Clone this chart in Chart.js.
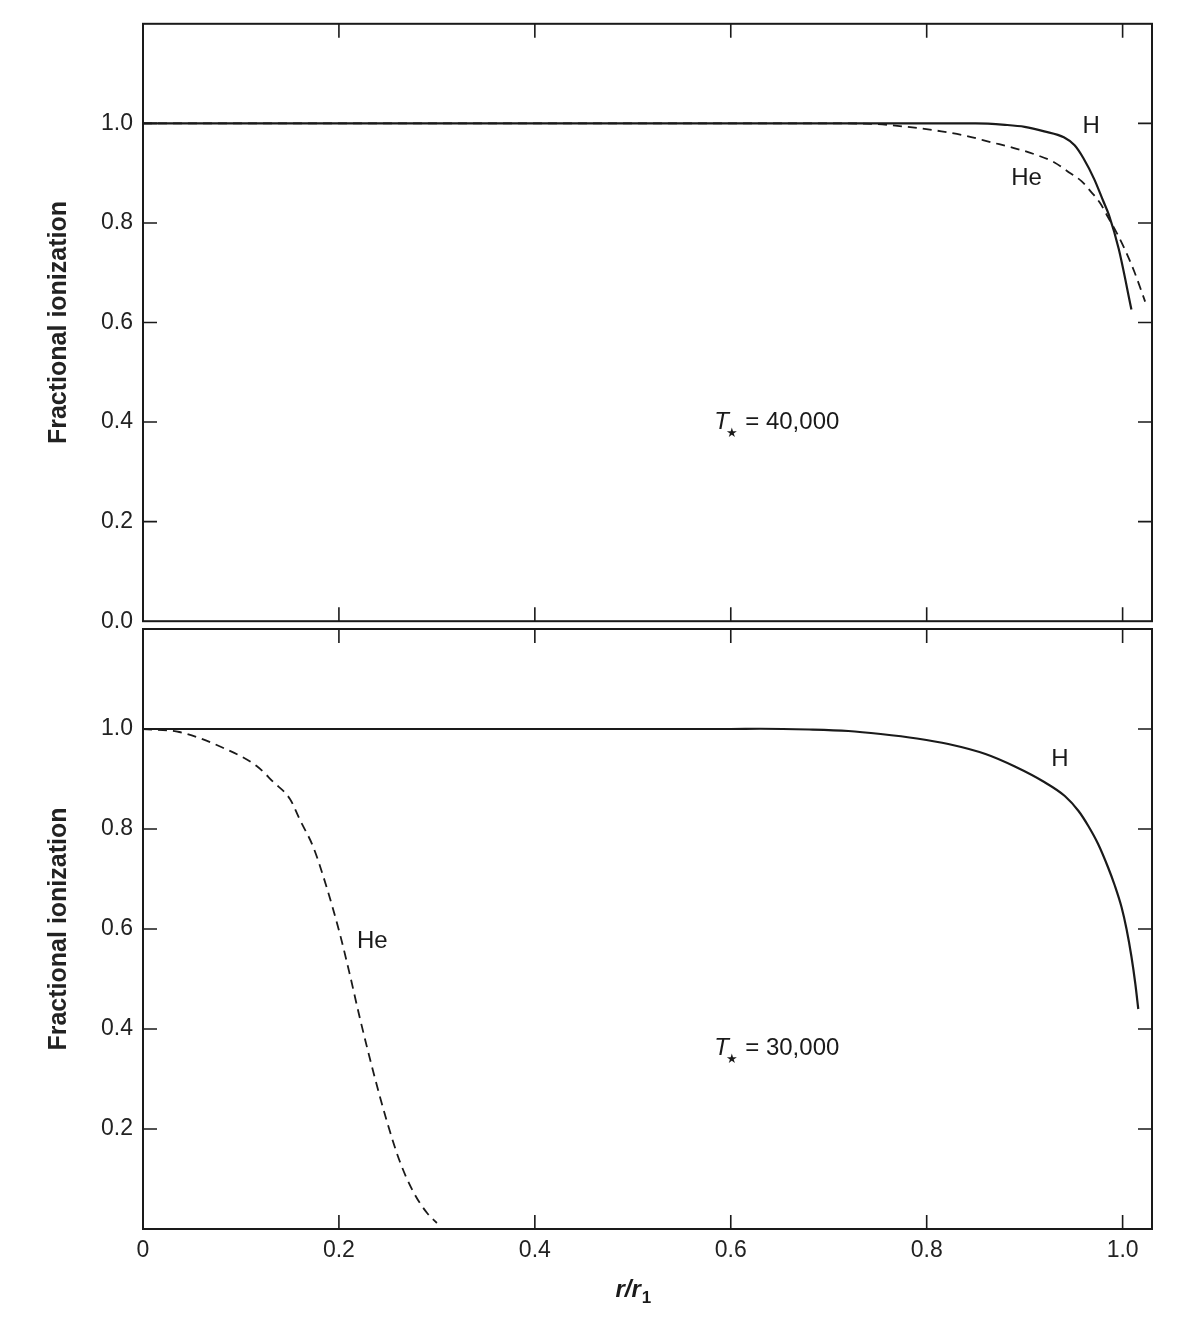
<!DOCTYPE html>
<html>
<head>
<meta charset="utf-8">
<script src="https://cdn.jsdelivr.net/npm/chart.js@4.4.1/dist/chart.umd.min.js"></script>
<style>
  html, body { margin: 0; padding: 0; background: #ffffff; }
  #wrap { position: relative; width: 1180px; height: 1318px; overflow: hidden; }
  #top { position: absolute; left: 0; top: 0; }
  #bot { position: absolute; left: 0; top: 600px; }
</style>
</head>
<body>
<div id="wrap">
  <canvas id="top" width="1180" height="645"></canvas>
  <canvas id="bot" width="1180" height="718"></canvas>
</div>
<script>
// ---------- data ----------
// Upper panel: T* = 40,000
const topH_r  = [0, 0.2, 0.4, 0.6, 0.8, 0.85, 0.88, 0.90, 0.92, 0.94, 0.951, 0.96, 0.971, 0.98, 0.986, 0.996, 1.009];
const topH_f  = [1, 1, 1, 1, 1, 1.0, 0.997, 0.993, 0.984, 0.972, 0.956, 0.93, 0.888, 0.845, 0.816, 0.748, 0.626];
const topHe_r = [0, 0.2, 0.4, 0.6, 0.7, 0.743, 0.78, 0.815, 0.84, 0.866, 0.89, 0.91, 0.93, 0.945, 0.958, 0.968, 0.977, 0.985, 0.994, 1.002, 1.012, 1.023];
const topHe_f = [1, 1, 1, 1, 1, 0.999, 0.993, 0.984, 0.975, 0.962, 0.95, 0.938, 0.922, 0.902, 0.884, 0.862, 0.84, 0.812, 0.78, 0.748, 0.702, 0.642];

// Lower panel: T* = 30,000
const botH_r  = [0, 0.2, 0.4, 0.6, 0.63, 0.68, 0.72, 0.753, 0.79, 0.822, 0.86, 0.89, 0.92, 0.941, 0.955, 0.965, 0.975, 0.985, 0.992, 0.999, 1.004, 1.009, 1.013, 1.016];
const botH_f  = [1, 1, 1, 1, 1.0005, 0.999, 0.996, 0.99, 0.981, 0.97, 0.95, 0.925, 0.894, 0.866, 0.836, 0.806, 0.77, 0.724, 0.687, 0.643, 0.6, 0.545, 0.49, 0.44];
const botHe_r = [0, 0.037, 0.081, 0.116, 0.133, 0.15, 0.16, 0.174, 0.188, 0.201, 0.211, 0.221, 0.235, 0.249, 0.262, 0.276, 0.29, 0.30];
const botHe_f = [1.0, 0.994, 0.963, 0.926, 0.894, 0.86, 0.819, 0.763, 0.68, 0.59, 0.51, 0.425, 0.315, 0.215, 0.136, 0.074, 0.032, 0.012];

// tick labels
const xTicks     = [0, 0.2, 0.4, 0.6, 0.8, 1.0];
const topYTicks  = [0, 0.2, 0.4, 0.6, 0.8, 1.0];
const botYTicks  = [0.2, 0.4, 0.6, 0.8, 1.0];

// text labels
const seriesNames = ['H', 'He'];
const topTemp = '40,000';
const botTemp = '30,000';
const yTitle = 'Fractional ionization';
const xTitleMain = 'r/r';
const xTitleSub = '1';

// ---------- helpers ----------
const FONT = '"Liberation Sans", Arial, Helvetica, sans-serif';
const INK = '#1a1a1a';
function pts(xs, ys) { return xs.map((x, i) => ({ x: x, y: ys[i] })); }

// Frame + inward tick marks on all four sides
const framePlugin = {
  id: 'frameTicks',
  afterDatasetsDraw(chart) {
    const { ctx, chartArea: a, scales } = chart;
    const L = 14;
    ctx.save();
    ctx.strokeStyle = INK;
    ctx.lineWidth = 1.6;
    ctx.beginPath();
    scales.x.ticks.forEach(t => {
      const px = scales.x.getPixelForValue(t.value);
      if (px <= a.left + 1 || px >= a.right - 1) return;
      ctx.moveTo(px, a.top); ctx.lineTo(px, a.top + L);
      ctx.moveTo(px, a.bottom); ctx.lineTo(px, a.bottom - L);
    });
    scales.y.ticks.forEach(t => {
      const py = scales.y.getPixelForValue(t.value);
      if (py <= a.top + 1 || py >= a.bottom - 1) return;
      ctx.moveTo(a.left, py); ctx.lineTo(a.left + L, py);
      ctx.moveTo(a.right, py); ctx.lineTo(a.right - L, py);
    });
    ctx.stroke();
    ctx.lineWidth = 2;
    ctx.strokeRect(a.left, a.top, a.right - a.left, a.bottom - a.top);
    ctx.restore();
  }
};

// Curve labels, temperature label and x-axis title (with subscript)
const labelPlugin = {
  id: 'curveLabels',
  afterDatasetsDraw(chart, args, opts) {
    const { ctx, scales } = chart;
    ctx.save();
    ctx.fillStyle = INK;
    ctx.textBaseline = 'middle';
    (opts.labels || []).forEach(l => {
      ctx.font = '24px ' + FONT;
      ctx.textAlign = 'center';
      ctx.fillText(l.text, scales.x.getPixelForValue(l.x), scales.y.getPixelForValue(l.y));
    });
    if (opts.temp) {
      const cx = scales.x.getPixelForValue(opts.temp.x);
      const cy = scales.y.getPixelForValue(opts.temp.y);
      const fT = 'italic 24px ' + FONT, fS = '13px "DejaVu Sans", ' + FONT, fR = '24px ' + FONT;
      ctx.font = fT; const wT = ctx.measureText('T').width;
      ctx.font = fS; const wS = ctx.measureText('\u2605').width;
      const rest = ' = ' + opts.temp.value;
      ctx.font = fR; const wR = ctx.measureText(rest).width;
      let x0 = cx - (wT + wS + wR) / 2;
      ctx.textAlign = 'left';
      ctx.font = fT; ctx.fillText('T', x0, cy);
      ctx.font = fS; ctx.fillText('\u2605', x0 + wT - 3, cy + 12);
      ctx.font = fR; ctx.fillText(rest, x0 + wT + wS - 2, cy);
    }
    if (opts.xTitle) {
      const cx = scales.x.getPixelForValue(opts.xTitle.at);
      const cy = scales.x.bottom - 17;
      const fM = 'italic bold 24px ' + FONT, fS = 'bold 17px ' + FONT;
      ctx.font = fM; const wM = ctx.measureText(xTitleMain).width;
      ctx.font = fS; const wS = ctx.measureText(xTitleSub).width;
      const x0 = cx - (wM + wS) / 2;
      ctx.textAlign = 'left';
      ctx.font = fM; ctx.fillText(xTitleMain, x0, cy);
      ctx.font = fS; ctx.fillText(xTitleSub, x0 + wM + 1, cy + 8);
    }
    ctx.restore();
  }
};

function baseDatasets(hR, hF, heR, heF) {
  return [
    { label: seriesNames[0], data: pts(hR, hF), borderColor: INK, borderWidth: 2.2,
      pointRadius: 0, fill: false, cubicInterpolationMode: 'monotone' },
    { label: seriesNames[1], data: pts(heR, heF), borderColor: INK, borderWidth: 1.8,
      borderDash: [9, 6], pointRadius: 0, fill: false, cubicInterpolationMode: 'monotone' }
  ];
}

function yScale(tickList) {
  return {
    type: 'linear', min: 0, max: 1.2,
    afterBuildTicks: s => { s.ticks = tickList.map(v => ({ value: v })); },
    afterFit: s => { s.width = 103; },
    grid: { display: false, drawTicks: false },
    border: { display: false },
    ticks: { color: '#222', font: { family: FONT, size: 23 }, padding: 10,
             callback: v => Number(v).toFixed(1) },
    title: { display: true, text: yTitle, color: '#222',
             font: { family: FONT, size: 25, weight: 'bold' }, padding: 4 }
  };
}

const common = {
  responsive: false, animation: false, devicePixelRatio: 1,
  plugins: { legend: { display: false }, tooltip: { enabled: false } }
};

// ---------- upper panel ----------
new Chart(document.getElementById('top'), {
  type: 'line',
  data: { datasets: baseDatasets(topH_r, topH_f, topHe_r, topHe_f) },
  options: Object.assign({}, common, {
    layout: { padding: { left: 40, top: 22, right: 28, bottom: 0 } },
    scales: {
      x: { type: 'linear', min: 0, max: 1.03,
           afterBuildTicks: s => { s.ticks = xTicks.map(v => ({ value: v })); },
           afterFit: s => { s.height = 19; },
           grid: { display: false, drawTicks: false }, border: { display: false },
           ticks: { display: false } },
      y: yScale(topYTicks)
    },
    plugins: Object.assign({}, common.plugins, {
      curveLabels: {
        labels: [ { text: seriesNames[0], x: 0.968, y: 0.994 },
                  { text: seriesNames[1], x: 0.902, y: 0.89 } ],
        temp: { x: 0.648, y: 0.4, value: topTemp }
      }
    })
  }),
  plugins: [framePlugin, labelPlugin]
});

// ---------- lower panel ----------
new Chart(document.getElementById('bot'), {
  type: 'line',
  data: { datasets: baseDatasets(botH_r, botH_f, botHe_r, botHe_f) },
  options: Object.assign({}, common, {
    layout: { padding: { left: 40, top: 29, right: 28, bottom: 11 } },
    scales: {
      x: { type: 'linear', min: 0, max: 1.03,
           afterBuildTicks: s => { s.ticks = xTicks.map(v => ({ value: v })); },
           afterFit: s => { s.height = 78; },
           grid: { display: false, drawTicks: false }, border: { display: false },
           ticks: { color: '#222', font: { family: FONT, size: 23 }, padding: 8, maxRotation: 0,
                    callback: v => (v === 0 ? '0' : Number(v).toFixed(1)) } },
      y: yScale(botYTicks)
    },
    plugins: Object.assign({}, common.plugins, {
      curveLabels: {
        labels: [ { text: seriesNames[0], x: 0.936, y: 0.94 },
                  { text: seriesNames[1], x: 0.234, y: 0.576 } ],
        temp: { x: 0.648, y: 0.362, value: botTemp },
        xTitle: { at: 0.5 }
      }
    })
  }),
  plugins: [framePlugin, labelPlugin]
});
</script>
</body>
</html>
